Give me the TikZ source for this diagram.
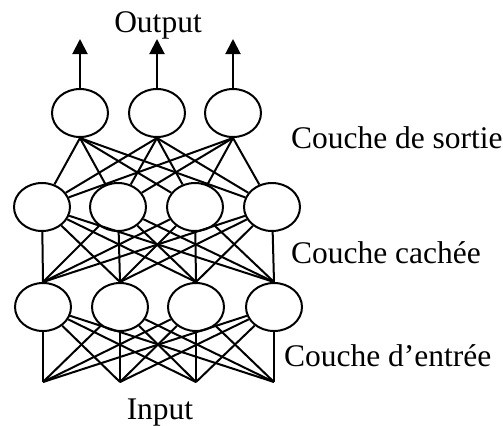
\documentclass[tikz,border=0pt]{standalone}
\usepackage{fontspec}
\setmainfont{Liberation Serif}
\usepackage{tikz}
\usetikzlibrary{shapes.geometric,arrows.meta}

\tikzset{neuron/.style={draw,ellipse,inner sep=0pt,minimum width=28pt,minimum height=24pt},
         couche/.style={anchor=base west,inner sep=0pt},
         titre/.style={anchor=base,inner sep=0pt}}

\begin{document}
\begin{tikzpicture}[x=0.5pt,y=-0.5pt]
    \useasboundingbox (0,0) rectangle (503,425);
    \begin{scope}[line width=1pt,font=\fontsize{15.75}{18}\selectfont]

    % couches
    \foreach \n/\x in {1/80,2/157,3/233}{%
        \node [neuron] (o\n) at (\x,113) {};
        \coordinate (a\n) at (\x,39);}
    \foreach \n/\x in {1/42,2/118,3/195,4/272}
        \node [neuron] (h\n) at (\x,207) {};
    \foreach \n/\x in {1/43,2/120,3/196,4/274}{%
        \node [neuron] (e\n) at (\x,307) {};
        \coordinate (x\n) at (\x,382);}

    % connexions
    \foreach \i in {1,...,4}{%
        \foreach \j in {1,2,3}
            \draw (h\i) -- (o\j.south);
        \foreach \j in {1,...,4}{%
            \draw (h\i) -- (e\j.north);
            \draw (x\i) -- (e\j);}}

    \foreach \n in {1,2,3}
        \draw [-{Triangle[length=7.5pt,width=7.5pt]}] (o\n) -- (a\n);

    \node [titre] (output) at (158,32) {Output};
    \node [titre] (input) at (160,419) {Input};
    \node [couche] (sortie) at (290,148) {Couche de sortie};
    \node [couche] (cachee) at (290,263) {Couche cachée};
    \node [couche] (entree) at (283,366) {Couche d'entrée};
\end{scope}
\end{tikzpicture}
\end{document}
